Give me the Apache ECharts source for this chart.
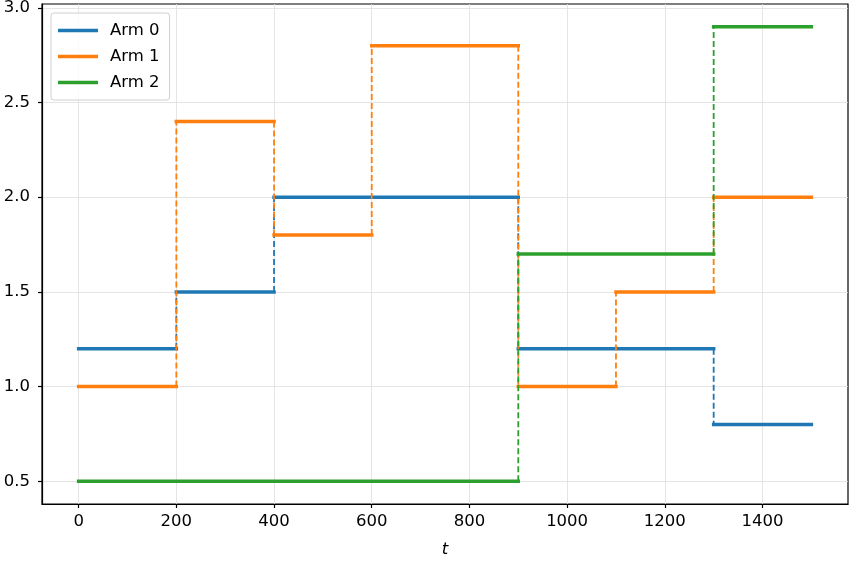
<!DOCTYPE html>
<html><head><meta charset="utf-8">
<script src="https://cdn.jsdelivr.net/npm/echarts@6/dist/echarts.min.js"></script>
<style>html,body{margin:0;padding:0;background:#fff}#c{width:850px;height:561px}</style>
</head><body><div id="c"></div>
<script>
// step change points (t) and values for each arm
const arm0Breaks = [0, 200, 400, 900, 1300, 1500];
const arm0Values = [1.2, 1.5, 2.0, 1.2, 0.8];
const arm1Breaks = [0, 200, 400, 600, 900, 1100, 1300, 1500];
const arm1Values = [1.0, 2.4, 1.8, 2.8, 1.0, 1.5, 2.0];
const arm2Breaks = [0, 900, 1300, 1500];
const arm2Values = [0.5, 1.7, 2.9];
const armNames = ['Arm 0', 'Arm 1', 'Arm 2'];
const colors = ['#1f77b4', '#ff7f0e', '#2ca02c'];
const xTicks = [0, 200, 400, 600, 800, 1000, 1200, 1400];
const yTicks = [0.5, 1.0, 1.5, 2.0, 2.5, 3.0];

function horiz(b, v) {
  const d = [];
  for (let i = 0; i < v.length; i++) {
    d.push([b[i], v[i]], [b[i + 1], v[i]]);
    if (i < v.length - 1) d.push([b[i + 1], '-']);
  }
  return d;
}
function vert(b, v) {
  const d = [];
  for (let i = 1; i < v.length; i++) {
    d.push([b[i], v[i - 1]], [b[i], v[i]]);
    if (i < v.length - 1) d.push([b[i], '-']);
  }
  return d;
}
const arms = [[arm0Breaks, arm0Values], [arm1Breaks, arm1Values], [arm2Breaks, arm2Values]];
const series = [];
arms.forEach((a, k) => {
  series.push({
    name: armNames[k], type: 'line', data: horiz(a[0], a[1]), showSymbol: false,
    lineStyle: { color: colors[k], width: 3.5, cap: 'square' }, itemStyle: { color: colors[k] },
    connectNulls: false, animation: false, z: 3, zlevel: 0
  });
  series.push({
    name: armNames[k] + ' switch', type: 'line', data: vert(a[0], a[1]), showSymbol: false,
    lineStyle: { color: colors[k], width: 1.8, type: [6, 3] }, itemStyle: { color: colors[k] },
    connectNulls: false, silent: true, animation: false, z: 3
  });
});

const font = 'DejaVu Sans';
const fs = 16.5;
const chart = echarts.init(document.getElementById('c'), null, { renderer: 'canvas' });
chart.setOption({
  animation: false,
  textStyle: { fontFamily: font },
  grid: { left: 42, right: 2, top: 4, bottom: 57, show: true, borderColor: '#000', borderWidth: 1.2, backgroundColor: '#fff', containLabel: false, outerBoundsMode: 'none' },
  legend: {
    data: armNames, left: 51, top: 13, orient: 'vertical',
    icon: 'path://M0,0 L40,0 L40,3.5 L0,3.5 Z', itemWidth: 40, itemHeight: 3.5, itemGap: 9,
    padding: [9, 10, 9, 7],
    backgroundColor: 'rgba(255,255,255,0.8)', borderColor: '#d0d0d0', borderWidth: 1, borderRadius: 3,
    textStyle: { fontFamily: font, fontSize: fs, color: '#000', padding: [0, 0, 0, 7] }
  },
  xAxis: {
    type: 'value', min: -75, max: 1575,
    name: 't', nameLocation: 'middle', nameGap: 37,
    nameTextStyle: { fontFamily: font, fontStyle: 'italic', fontSize: fs, color: '#000' },
    axisLine: { show: true, onZero: false, lineStyle: { color: '#000', width: 1.2 } },
    axisTick: { show: true, length: 4, lineStyle: { color: '#000', width: 1.2 }, customValues: xTicks },
    axisLabel: { color: '#000', fontSize: fs, fontFamily: font, margin: 9, customValues: xTicks, formatter: v => String(v) },
    splitLine: { show: true, lineStyle: { color: '#dedede', width: 0.8 } }
  },
  yAxis: {
    type: 'value', min: 0.38, max: 3.02,
    axisLine: { show: true, onZero: false, lineStyle: { color: '#000', width: 1.2 } },
    axisTick: { show: true, length: 4, lineStyle: { color: '#000', width: 1.2 }, customValues: yTicks },
    axisLabel: { color: '#000', fontSize: fs, fontFamily: font, margin: 12, customValues: yTicks, formatter: v => v.toFixed(1) },
    splitLine: { show: true, lineStyle: { color: '#dedede', width: 0.8 } }
  },
  series: series
});
</script></body></html>
